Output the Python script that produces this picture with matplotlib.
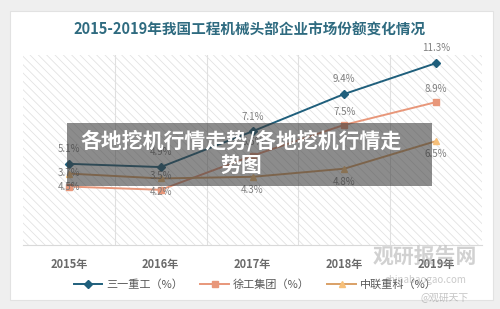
import matplotlib
matplotlib.use("Agg")
import matplotlib.pyplot as plt
from matplotlib.patches import Rectangle, FancyBboxPatch

plt.rcParams['font.family'] = ['Noto Sans CJK SC', 'DejaVu Sans']
plt.rcParams['hatch.color'] = "#e3e3e3"
plt.rcParams['hatch.linewidth'] = 0.6

# data
years = ["2015年", "2016年", "2017年", "2018年", "2019年"]
sany = [5.1, 4.9, 7.1, 9.4, 11.3]
xcmg = [3.7, 3.5, 5.6, 7.5, 8.9]
zoomlion = [4.5, 4.2, 4.3, 4.8, 6.5]
names = ["三一重工（%）", "徐工集团（%）", "中联重科（%）"]

title = "2015-2019年我国工程机械头部企业市场份额变化情况"
overlay_text = "各地挖机行情走势/各地挖机行情走\n势图"

fig = plt.figure(figsize=(5, 3.09), dpi=100)
fig.patch.set_facecolor("#efefef")

# white card behind everything
card = FancyBboxPatch((0.02, 0.03), 0.965, 0.935, boxstyle="square,pad=0",
                      transform=fig.transFigure, facecolor="white",
                      edgecolor="#e2e2e2", linewidth=0.8, zorder=-5)
fig.patches.append(card)

fig.text(0.5, 0.905, title, ha="center", va="center", fontsize=10.5,
         fontweight="bold", color="#2f6b80")

ax = fig.add_axes([0.046, 0.207, 0.918, 0.615])
ax.set_facecolor("white")
x = list(range(len(years)))
ax.set_xlim(-0.5, len(years) - 0.5)
ax.set_ylim(0.1, 11.8)

# hatched plot area
ax.add_patch(Rectangle((0, 0), 1, 1, transform=ax.transAxes, facecolor="white",
                       edgecolor="#e3e3e3", hatch="\\\\\\\\", linewidth=0, zorder=0))
for b in [0.5, 1.5, 2.5, 3.5]:
    ax.axvline(b, color="#e0e0e0", linewidth=0.8, zorder=1)

for s in ax.spines.values():
    s.set_visible(False)
ax.spines['bottom'].set_visible(True)
ax.spines['bottom'].set_color("#d9d9d9")
ax.set_yticks([])
ax.set_xticks(x)
ax.set_xticklabels(years, fontsize=8, color="#6a6a6a", fontweight="bold")
ax.tick_params(axis="x", length=0, pad=9)

blue = "#1f5f7c"
salmon = "#e8977a"
tan = "#d9a066"
ax.plot(x, sany, color=blue, linewidth=1.4, marker="D", markersize=4, zorder=3, label=names[0])
ax.plot(x, xcmg, color=salmon, linewidth=1.4, marker="s", markersize=4.5, zorder=3, label=names[1])
ax.plot(x, zoomlion, color=tan, linewidth=1.4, marker="^", markersize=5, zorder=3,
        markerfacecolor="#f7c07a", markeredgecolor="#f7c07a", label=names[2])

lab_kw = dict(fontsize=7, color="#7f7f7f", ha="center")
for i in x:
    ax.annotate(f"{sany[i]}%", (i, sany[i]), xytext=(0, 7), textcoords="offset points", va="bottom", **lab_kw)
    ax.annotate(f"{xcmg[i]}%", (i, xcmg[i]), xytext=(0, 6), textcoords="offset points", va="bottom", **lab_kw)
    ax.annotate(f"{zoomlion[i]}%", (i, zoomlion[i]), xytext=(0, -6), textcoords="offset points", va="top", **lab_kw)

leg = fig.legend(loc="center", bbox_to_anchor=(0.51, 0.08), ncol=3, frameon=False,
                 fontsize=8, handlelength=2.6, columnspacing=1.6, handletextpad=0.3)
for t in leg.get_texts():
    t.set_color("#595959")

# grey overlay banner
fig.patches.append(Rectangle((0.134, 1 - 186 / 309), 0.73, 63 / 309, transform=fig.transFigure,
                             facecolor="#3a3a3a", alpha=0.58, edgecolor="none", zorder=5))
fig.text(0.482, 1 - 153 / 309, overlay_text, ha="center", va="center", fontsize=15,
         fontweight="bold", color="white", linespacing=1.2, zorder=6)

# watermark
fig.text(0.85, 0.17, "观研报告网", ha="center", va="center", fontsize=15,
         fontweight="bold", color="#9a9a9a", alpha=0.45, zorder=6)
fig.text(0.85, 0.095, "chinabaogao.com", ha="center", va="center", fontsize=7,
         color="#8a8a8a", alpha=0.45, zorder=6)
fig.text(0.89, 0.04, "@观研天下", ha="center", va="center", fontsize=7,
         color="#8a8a8a", alpha=0.5, zorder=6)

fig.savefig("out.png", dpi=100)
